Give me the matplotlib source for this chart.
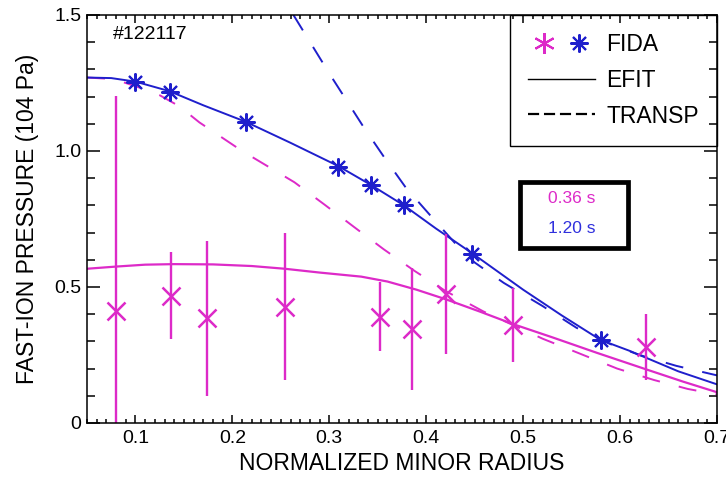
import matplotlib
matplotlib.use('Agg')
import matplotlib.pyplot as plt
from matplotlib.lines import Line2D
from matplotlib.legend_handler import HandlerTuple
from matplotlib.patches import Rectangle
from matplotlib.ticker import MultipleLocator

plt.rcParams['font.family'] = ['Liberation Sans', 'DejaVu Sans']
plt.rcParams['lines.scale_dashes'] = False

MAGENTA = '#DD2AC8'
BLUE = '#1F1FCC'

# FIDA measurements, 0.36 s (magenta)
fida_r_early = [0.080, 0.1365, 0.174, 0.254, 0.352, 0.385, 0.420, 0.490, 0.627]
fida_p_early = [0.412, 0.467, 0.385, 0.428, 0.391, 0.346, 0.473, 0.360, 0.279]
fida_err_early = [0.79, 0.16, 0.285, 0.27, 0.128, 0.225, 0.22, 0.135, 0.12]

# FIDA measurements, 1.20 s (blue)
fida_r_late = [0.100, 0.1355, 0.214, 0.309, 0.343, 0.377, 0.447, 0.580]
fida_p_late = [1.254, 1.217, 1.107, 0.942, 0.875, 0.800, 0.620, 0.305]

# EFIT profiles
efit_r_early = [0.05, 0.08, 0.11, 0.14, 0.18, 0.22, 0.254, 0.29, 0.333, 0.36, 0.39,
                0.42, 0.455, 0.49, 0.53, 0.576, 0.627, 0.665, 0.70]
efit_p_early = [0.567, 0.575, 0.582, 0.584, 0.583, 0.577, 0.567, 0.553, 0.538, 0.52, 0.49,
                0.455, 0.41, 0.363, 0.315, 0.258, 0.197, 0.152, 0.113]
efit_r_late = [0.05, 0.075, 0.10, 0.135, 0.17, 0.214, 0.26, 0.309, 0.343, 0.377, 0.41,
               0.447, 0.50, 0.54, 0.58, 0.61, 0.66, 0.70]
efit_p_late = [1.270, 1.268, 1.255, 1.220, 1.168, 1.107, 1.030, 0.945, 0.875, 0.800, 0.715,
               0.625, 0.490, 0.395, 0.305, 0.265, 0.19, 0.142]

# TRANSP profiles
transp_r_early = [0.05, 0.075, 0.09, 0.105, 0.125, 0.145, 0.166, 0.21, 0.264, 0.295, 0.325,
                  0.356, 0.388, 0.42, 0.459, 0.52, 0.597, 0.635, 0.67, 0.70]
transp_p_early = [1.27, 1.265, 1.25, 1.232, 1.205, 1.165, 1.105, 1.0, 0.885, 0.803, 0.722,
                  0.639, 0.559, 0.485, 0.41, 0.31, 0.20, 0.158, 0.125, 0.105]
transp_r_late = [0.263, 0.30, 0.335, 0.357, 0.379, 0.405, 0.43, 0.45, 0.48, 0.52, 0.555,
                 0.59, 0.62, 0.658, 0.70]
transp_p_late = [1.50, 1.285, 1.09, 0.975, 0.865, 0.76, 0.66, 0.59, 0.515, 0.43, 0.35,
                 0.29, 0.25, 0.21, 0.175]

ytick_vals = [0, 0.5, 1.0, 1.5]
ytick_labels = ['0', '0.5', '1.0', '1.5']
xtick_vals = [0.1, 0.2, 0.3, 0.4, 0.5, 0.6, 0.7]
xtick_labels = ['0.1', '0.2', '0.3', '0.4', '0.5', '0.6', '0.7']

fig = plt.figure(figsize=(7.26, 4.8), dpi=100)
ax = fig.add_axes([0.1198, 0.1188, 0.8678, 0.8500])

dash = (0, (13, 14))
ax.plot(efit_r_early, efit_p_early, color=MAGENTA, lw=1.6)
ax.plot(transp_r_early, transp_p_early, color=MAGENTA, lw=1.4, ls=dash)
ax.plot(efit_r_late, efit_p_late, color=BLUE, lw=1.4)
ax.plot(transp_r_late, transp_p_late, color=BLUE, lw=1.4, ls=dash)

ax.errorbar(fida_r_early, fida_p_early, yerr=fida_err_early, fmt='x', color=MAGENTA,
            ms=13, mew=1.8, elinewidth=1.7, capsize=0)
ax.plot(fida_r_late, fida_p_late, ls='none', marker=(8, 2, 0), color=BLUE, ms=13, mew=1.5)

ax.set_xlim(0.05, 0.7)
ax.set_ylim(0, 1.5)
ax.set_xticks(xtick_vals)
ax.set_xticklabels(xtick_labels)
ax.set_yticks(ytick_vals)
ax.set_yticklabels(ytick_labels)
ax.xaxis.set_minor_locator(MultipleLocator(0.01))
ax.yaxis.set_minor_locator(MultipleLocator(0.1))
ax.tick_params(which='both', direction='in', top=True, right=True, width=1.1, labelsize=14)
ax.tick_params(axis='x', which='major', length=6, pad=5)
ax.tick_params(axis='x', which='minor', length=3.2)
ax.tick_params(axis='y', which='major', length=9.5, pad=4)
ax.tick_params(axis='y', which='minor', length=6)
for s in ax.spines.values():
    s.set_linewidth(1.1)

ax.set_xlabel('NORMALIZED MINOR RADIUS', fontsize=16.5, labelpad=4)
ax.set_ylabel('FAST-ION PRESSURE (104 Pa)', fontsize=16.5, labelpad=11)

ax.text(0.041, 0.951, '#122117', transform=ax.transAxes, fontsize=14, va='center', ha='left')

ax.add_patch(Rectangle((0.688, 0.428), 0.171, 0.163, transform=ax.transAxes,
                       fill=False, lw=3.4, edgecolor='black'))
ax.text(0.769, 0.551, '0.36 s', transform=ax.transAxes, color=MAGENTA, fontsize=12.5,
        ha='center', va='center')
ax.text(0.769, 0.477, '1.20 s', transform=ax.transAxes, color='#3030DD', fontsize=12.5,
        ha='center', va='center')

h_early = Line2D([], [], color=MAGENTA, marker=(6, 2, 0), ms=15, mew=1.5, ls='none')
h_late = Line2D([], [], color=BLUE, marker=(8, 2, 0), ms=13, mew=1.5, ls='none')
h_efit = Line2D([], [], color='black', lw=1.0)
h_transp = Line2D([], [], color='black', lw=1.6, ls=(0, (8, 3.5)))
leg = ax.legend([(h_early, h_late), h_efit, h_transp], ['FIDA', 'EFIT', 'TRANSP'],
                handler_map={tuple: HandlerTuple(ndivide=None, pad=0.2)},
                loc='upper right', borderaxespad=0, fancybox=False, edgecolor='black',
                framealpha=1, fontsize=16.5, handlelength=2.9, handletextpad=0.5,
                borderpad=0.8, labelspacing=0.55)
leg.get_frame().set_linewidth(1.0)
leg.set_zorder(1)

fig.savefig('out.png', dpi=100)
